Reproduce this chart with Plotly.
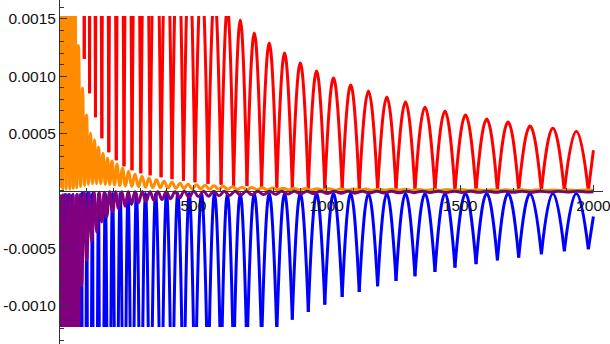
import plotly.graph_objects as go

# ---------------- data (y values in units of 1e-3) ----------------
# red: local minima (cusps) and arch tops
red_min_x = [72, 91, 111, 133, 157, 183, 211, 240, 270, 303, 338, 379, 420, 463, 506, 555, 604, 651,
             701, 756, 813, 871, 931, 993, 1058, 1122, 1191, 1260, 1331, 1406, 1481, 1560, 1640, 1720,
             1805, 1891, 1981]
red_min_y = [1.9, 1.151, 0.854, 0.645, 0.462, 0.340, 0.270, 0.218, 0.183, 0.157, 0.139, 0.122, 0.105,
             0.092, 0.078, 0.065, 0.057, 0.048, 0.044, 0.035, 0.031, 0.026, 0.022, 0.017, 0.017, 0.013,
             0.009, 0.009, 0.006, 0.005, 0.004, 0.003, 0.003, 0.002, 0.002, 0.002, 0.002]
red_top_x = [81.5, 101, 122, 145, 170, 197, 225.5, 255, 286.5, 320.5, 358.5, 399.5, 441.5, 484.5, 530.5,
             579.5, 627.5, 676, 728.5, 784.5, 842, 901, 962, 1025.5, 1090, 1156.5, 1225.5, 1295.5,
             1368.5, 1443.5, 1520.5, 1600, 1680, 1762.5, 1848, 1936]
red_top_y = [14, 10, 8.2, 6.9, 5.9, 5.1, 4.5, 3.9, 3.5, 3.1, 2.8, 2.5, 2.3, 2.07, 1.9, 1.73, 1.6, 1.491,
             1.378, 1.291, 1.203, 1.116, 1.046, 0.985, 0.924, 0.872, 0.820, 0.776, 0.732, 0.697, 0.663,
             0.628, 0.602, 0.567, 0.549, 0.523]
red_end = (2000, 0.357)

# blue: deep cusps and rounded tops near zero
blue_min_x = [0, 10, 24, 39, 55] + red_min_x
blue_min_y = [-40, -30, -25, -20, -16, -13, -11, -9, -7.6, -6.4, -5.5, -4.8, -4.2, -3.7, -3.3, -2.98,
              -2.65, -2.4, -2.17, -1.99, -1.81, -1.67, -1.55, -1.43, -1.33, -1.24, -1.119, -1.052,
              -0.988, -0.922, -0.878, -0.828, -0.782, -0.741, -0.704, -0.665, -0.636, -0.602, -0.578,
              -0.549, -0.523, -0.506]
blue_top_x = [5, 17, 31.5, 47, 63.5] + red_top_x
blue_top_y = [-0.03] * 5 + [-0.02] * 36
blue_end = (2000, -0.22)

# orange: smooth decaying oscillation (peaks / troughs)
orange_peak_x = [3.75, 16.9, 30, 43.1, 56.3, 69.4, 84.4, 99.4, 114.4, 129.4, 144.4, 161.3, 178.1, 195,
                 213.8, 234.4, 256.9, 281.3, 307.5, 333.8, 361.9, 390, 420, 450, 480, 511.9, 543.8,
                 577.5, 611.3, 646.9, 682.5, 720, 757.5, 796.9, 836.3, 877.5, 920.6, 963.8, 1008.8,
                 1053.8, 1100.6, 1147.5, 1196.3, 1245, 1295.6, 1346.3, 1398.8, 1451.3, 1505.6, 1560,
                 1616.3, 1672.5, 1730.6, 1788.8, 1848.8, 1908.8, 1968.8]
orange_peak_y = [8, 5, 3.2, 2.3, 1.7, 1.27, 0.898, 0.663, 0.506, 0.445, 0.384, 0.331, 0.288, 0.262,
                 0.235, 0.2, 0.174, 0.148, 0.131, 0.113, 0.1, 0.087, 0.078, 0.07, 0.061, 0.057, 0.052,
                 0.048, 0.044, 0.039, 0.035, 0.033, 0.031, 0.028, 0.026, 0.024, 0.023, 0.022, 0.021,
                 0.02, 0.019, 0.018, 0.017, 0.016, 0.016, 0.015, 0.015, 0.014, 0.014, 0.013, 0.013,
                 0.012, 0.012, 0.012, 0.011, 0.011, 0.011]
orange_trough_x = [0, 10.3, 23.4, 36.6, 49.7, 62.8, 76.9, 91.9, 106.9, 121.9, 136.9, 152.8, 169.7,
                   186.6, 204.4, 224.1, 245.6, 269.1, 294.4, 320.6, 347.8, 375.9, 405, 435, 465, 495.9,
                   527.8, 560.6, 594.4, 629.1, 664.7, 701.3, 738.8, 777.2, 816.6, 856.9, 899.1, 942.2,
                   986.3, 1031.3, 1077.2, 1124.1, 1171.9, 1220.6, 1270.3, 1320.9, 1372.5, 1425, 1478.4,
                   1532.8, 1588.1, 1644.4, 1701.6, 1759.7, 1818.8, 1878.8, 1938.8, 2000]
orange_trough_y = [0.03, 0.02, 0.02, 0.02, 0.025, 0.03, 0.04, 0.05, 0.06, 0.065, 0.065, 0.065, 0.06,
                   0.058, 0.055, 0.05, 0.046, 0.042, 0.038, 0.035, 0.032, 0.03, 0.027, 0.025, 0.023,
                   0.021, 0.02, 0.018, 0.017, 0.016, 0.015, 0.014, 0.013, 0.012, 0.012, 0.011, 0.011,
                   0.01, 0.01, 0.009, 0.009, 0.009, 0.008, 0.008, 0.008, 0.007, 0.007, 0.007, 0.007,
                   0.006, 0.006, 0.006, 0.006, 0.006, 0.005, 0.005, 0.005, 0.008]

# purple: smooth decaying negative oscillation
purple_trough_x = [3.75, 16.9, 30, 43.1, 56.3, 69.4, 81.4, 100.1, 118.9, 137.6, 156.4, 175.1, 196.9,
                   219.4, 243.8, 268.1, 294.4, 322.5, 352.5, 382.5, 414.4, 448.1, 483.8, 519.4, 556.9,
                   596.3, 635.6, 676.9, 720, 763.1, 808.1, 855, 901.9, 950.6, 1001.3, 1053.8, 1106.3,
                   1160.6, 1215, 1271, 1328, 1388, 1448, 1508, 1571, 1635, 1699, 1766, 1834, 1901, 1973]
purple_trough_y = [-12, -8, -5, -3.5, -2.4, -1.5, -0.82, -0.60, -0.44, -0.355, -0.268, -0.224, -0.18,
                   -0.15, -0.131, -0.115, -0.10, -0.09, -0.08, -0.072, -0.065, -0.058, -0.052, -0.047,
                   -0.043, -0.04, -0.037, -0.034, -0.031, -0.029, -0.027, -0.025, -0.023, -0.021,
                   -0.02, -0.018, -0.017, -0.016, -0.015, -0.014, -0.013, -0.012, -0.012, -0.011,
                   -0.01, -0.01, -0.009, -0.009, -0.008, -0.008, -0.007]
purple_peak_x = [0, 10.3, 23.5, 36.6, 49.7, 62.9, 75.4, 90.8, 109.5, 128.3, 147, 165.8, 186, 208.2,
                 231.6, 256, 281.3, 308.5, 337.5, 367.5, 398.5, 431.3, 466, 501.6, 538.2, 576.6, 616,
                 656.3, 698.5, 741.6, 785.6, 831.6, 878.5, 926.3, 976, 1027.6, 1080.1, 1133.5, 1187.8,
                 1243, 1299.5, 1358, 1418, 1478, 1539.5, 1603, 1667, 1732.5, 1800, 1867.5, 1937, 2000]
purple_peak_y = [-0.03] * 7 + [-0.01] * 5 + [-0.005] * 10 + [0.0] * 29 + [-0.004]

x_ticks = [500, 1000, 1500, 2000]
y_ticks = [-0.0010, -0.0005, 0.0005, 0.0010, 0.0015]
y_tick_text = ["-0.0010", "-0.0005", "0.0005", "0.0010", "0.0015"]

SCALE = 1e-3


def arch_path(mx, my, tx, ty, end):
    xs, ys = [], []
    for i in range(len(tx)):
        xs += [mx[i], tx[i], mx[i + 1], None]
        ys += [my[i] * SCALE, ty[i] * SCALE, my[i + 1] * SCALE, None]
    xs += [mx[-1], end[0]]
    ys += [my[-1] * SCALE, end[1] * SCALE]
    return xs, ys


def wave_path(ax, ay, bx, by):
    xs, ys = [], []
    for i in range(len(ax)):
        xs.append(ax[i]); ys.append(ay[i] * SCALE)
        if i < len(bx):
            xs.append(bx[i]); ys.append(by[i] * SCALE)
    return xs, ys


W, H = 610, 344
px0, px1 = 60, 603          # x pixel span of axes
py_top_clip, py_bot_clip = 16, 327
py_zero = 191
X_RANGE = [0, 2036]

fig = go.Figure()
line_kw = dict(shape="spline", smoothing=1.3, width=3, simplify=False)

rx, ry = arch_path(red_min_x, red_min_y, red_top_x, red_top_y, red_end)
fig.add_trace(go.Scatter(x=rx, y=ry, mode="lines", line=dict(color="#FF0000", **line_kw)))
bx, by = arch_path(blue_min_x, blue_min_y, blue_top_x, blue_top_y, blue_end)
fig.add_trace(go.Scatter(x=bx, y=by, mode="lines", line=dict(color="#0000FF", **line_kw)))
ox, oy = wave_path(orange_trough_x, orange_trough_y, orange_peak_x, orange_peak_y)
fig.add_trace(go.Scatter(x=ox, y=oy, mode="lines", line=dict(color="#FF8C00", **line_kw)))
qx, qy = wave_path(purple_peak_x, purple_peak_y, purple_trough_x, purple_trough_y)
fig.add_trace(go.Scatter(x=qx, y=qy, mode="lines", line=dict(color="#800080", **line_kw)))

# dummy trace so the decorative axes subplot (drawn on top) exists
fig.add_trace(go.Scatter(x=[None], y=[None], xaxis="x2", yaxis="y2", mode="lines", hoverinfo="skip"))

AX = "#333333"
font = dict(family="Liberation Sans, Arial, sans-serif", size=15.5, color="#111111")

fig.update_layout(
    template="none",
    width=W, height=H, margin=dict(l=0, r=0, t=0, b=0, pad=0), autosize=False,
    paper_bgcolor="white", plot_bgcolor="rgba(0,0,0,0)",
    showlegend=False, font=font,
    # data axes (hidden) - define the clipping window of the curves
    xaxis=dict(domain=[px0 / W, px1 / W], range=X_RANGE, visible=False, anchor="y",
               automargin=False, showgrid=False, zeroline=False),
    yaxis=dict(domain=[1 - py_bot_clip / H, 1 - py_top_clip / H], range=[-1.183e-3, 1.526e-3],
               visible=False, anchor="x", automargin=False, showgrid=False, zeroline=False),
    # decorative axes drawn on top, crossing at the origin
    xaxis2=dict(domain=[px0 / W, px1 / W], range=X_RANGE, anchor="free", position=1 - py_zero / H,
                automargin=False, ticklabeloverflow="allow",
                showline=True, linecolor=AX, linewidth=1, ticks="inside", ticklen=6, tickcolor=AX,
                tickvals=x_ticks, ticktext=[str(v) for v in x_ticks], showgrid=False, zeroline=False,
                minor=dict(dtick=100, tick0=0, ticks="inside", ticklen=3, tickcolor=AX, showgrid=False),
                tickfont=font),
    yaxis2=dict(domain=[0, 1], range=[-1.334e-3, 1.665e-3], anchor="x2", automargin=False,
                ticklabeloverflow="allow",
                showline=True, linecolor=AX, linewidth=1, ticks="inside", ticklen=7, tickcolor=AX,
                tickvals=y_ticks, ticktext=y_tick_text, showgrid=False, zeroline=False,
                minor=dict(dtick=0.0001, tick0=0, ticks="inside", ticklen=4, tickcolor=AX, showgrid=False),
                tickfont=font),
)

fig.write_html("out.html", config={"displayModeBar": False, "staticPlot": True},
               post_script="document.body.style.margin='0';document.body.style.padding='0';")
